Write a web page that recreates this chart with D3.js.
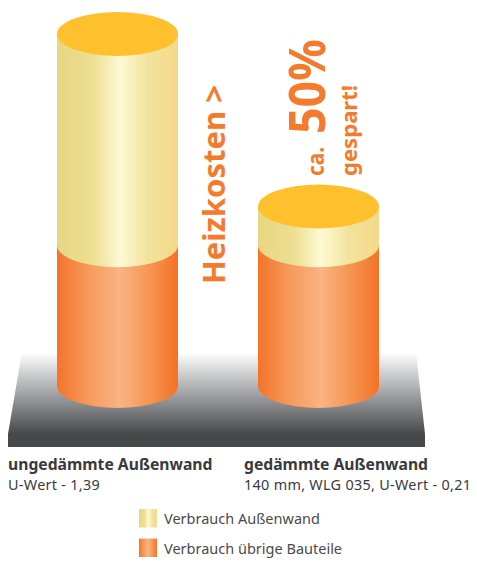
<!DOCTYPE html>
<html lang="de">
  <head>
    <meta charset="utf-8">
    <title>Heizkosten</title>
    <script src="https://d3js.org/d3.v7.min.js"></script>
    <style>
      html, body { margin: 0; padding: 0; background: #fff; }
      svg { display: block; font-family: "Noto Sans", sans-serif; }
    </style>
  </head>
  <body>
    <script>
    // Data (share of heating costs, ungedaemmt = 100)
    var categories = ["ungedämmte Außenwand", "gedämmte Außenwand"];
    var subLabels = ["U-Wert - 1,39", "140 mm, WLG 035, U-Wert - 0,21"];
    var verbrauchUebrige = [40, 40];
    var verbrauchWand = [60, 11];
    var legendLabels = ["Verbrauch Außenwand", "Verbrauch übrige Bauteile"];

    var w = 477, h = 562;
    var ry = 22;   // half height of the cylinder ellipses

    var svg = d3.select("body").append("svg")
      .attr("width", w)
      .attr("height", h);

    var xScale = d3.scaleBand()
      .domain(categories)
      .range([57, 379])
      .paddingInner(0.398);

    var yScale = d3.scaleLinear()
      .domain([0, 100])
      .range([386, 34]);

    var legendY = d3.scaleBand()
      .domain(legendLabels)
      .range([509, 557])
      .paddingInner(0.375);

    // Gradients
    var defs = svg.append("defs");
    function hGradient(id, stops) {
      var g = defs.append("linearGradient").attr("id", id)
        .attr("x1", 0).attr("x2", 1).attr("y1", 0).attr("y2", 0);
      stops.forEach(function(s) {
        g.append("stop").attr("offset", s[0]).attr("stop-color", s[1]);
      });
    }
    hGradient("orange", [[0, "#f37429"], [0.25, "#f6985a"], [0.52, "#fab483"], [0.78, "#f6934f"], [1, "#f37226"]]);
    hGradient("wall", [[0, "#e8d680"], [0.3, "#eede93"], [0.52, "#fdf9d2"], [0.75, "#f2e39c"], [1, "#f5d88a"]]);

    var floorGrad = defs.append("linearGradient").attr("id", "floor")
      .attr("x1", 0).attr("x2", 0).attr("y1", 0).attr("y2", 1);
    floorGrad.append("stop").attr("offset", 0).attr("stop-color", "#ffffff");
    floorGrad.append("stop").attr("offset", 0.5).attr("stop-color", "#a3a4a7");
    floorGrad.append("stop").attr("offset", 1).attr("stop-color", "#47484a");

    // Floor
    svg.append("path")
      .attr("d", "M22,352 L416,352 L425,434 L8,434 Z")
      .attr("fill", "url(#floor)");
    svg.append("rect")
      .attr("x", 8).attr("y", 434)
      .attr("width", 417).attr("height", 13)
      .attr("fill", "#47484a");

    // Side of a cylinder between two heights, curved at the bottom
    function side(d, yTop, yBottom) {
      var r = xScale.bandwidth() / 2;
      var x0 = xScale(d);
      return "M" + x0 + "," + yTop +
        "L" + (x0 + 2 * r) + "," + yTop +
        "L" + (x0 + 2 * r) + "," + yBottom +
        "A" + r + "," + ry + " 0 0 1 " + x0 + "," + yBottom + "Z";
    }

    var bars = svg.selectAll("g.bar")
      .data(categories)
      .enter()
      .append("g")
      .attr("class", "bar");

    bars.append("path")
      .attr("d", function(d, i) { return side(d, yScale(verbrauchUebrige[i]), yScale(0)); })
      .attr("fill", "url(#orange)");

    bars.append("path")
      .attr("d", function(d, i) { return side(d, yScale(verbrauchUebrige[i] + verbrauchWand[i]), yScale(verbrauchUebrige[i])); })
      .attr("fill", "url(#wall)");

    bars.append("ellipse")
      .attr("cx", function(d) { return xScale(d) + xScale.bandwidth() / 2; })
      .attr("cy", function(d, i) { return yScale(verbrauchUebrige[i] + verbrauchWand[i]); })
      .attr("rx", xScale.bandwidth() / 2)
      .attr("ry", ry)
      .attr("fill", "#fec02d");

    // Rotated orange labels
    function vertical(x, y, size, txt, len) {
      svg.append("text")
        .attr("transform", "translate(" + x + "," + y + ") rotate(-90)")
        .attr("fill", "#f47b2e")
        .attr("font-weight", "bold")
        .attr("font-size", size)
        .attr("textLength", len)
        .attr("lengthAdjust", "spacingAndGlyphs")
        .text(txt);
    }
    vertical(225, 284, 31, "Heizkosten >", 199);
    vertical(324, 176, 24, "ca.", 29);
    vertical(325, 134, 50, "50%", 95);
    vertical(357, 176, 21, "gespart!", 91);

    // Labels below the floor
    var labelX = [8, 244];
    svg.selectAll("text.cat")
      .data(categories)
      .enter().append("text")
      .attr("class", "cat")
      .attr("x", function(d, i) { return labelX[i]; })
      .attr("y", 470)
      .attr("font-size", 15.7)
      .attr("font-weight", "bold")
      .attr("fill", "#3a3a3c")
      .text(function(d) { return d; });

    svg.selectAll("text.sub")
      .data(subLabels)
      .enter().append("text")
      .attr("class", "sub")
      .attr("x", function(d, i) { return labelX[i]; })
      .attr("y", 490)
      .attr("font-size", 14.4)
      .attr("letter-spacing", 0.3)
      .attr("fill", "#3a3a3c")
      .text(function(d) { return d; });

    // Legend
    var legendFill = ["url(#wall)", "url(#orange)"];
    svg.selectAll("rect.legend")
      .data(legendLabels)
      .enter().append("rect")
      .attr("class", "legend")
      .attr("x", 139)
      .attr("y", function(d) { return legendY(d); })
      .attr("width", 18)
      .attr("height", legendY.bandwidth())
      .attr("fill", function(d, i) { return legendFill[i]; });

    svg.selectAll("text.legend")
      .data(legendLabels)
      .enter().append("text")
      .attr("class", "legend")
      .attr("x", 164)
      .attr("y", function(d) { return legendY(d) + 15; })
      .attr("font-size", 14.5)
      .attr("fill", "#4a4a4c")
      .text(function(d) { return d; });
    </script>
  </body>
</html>
